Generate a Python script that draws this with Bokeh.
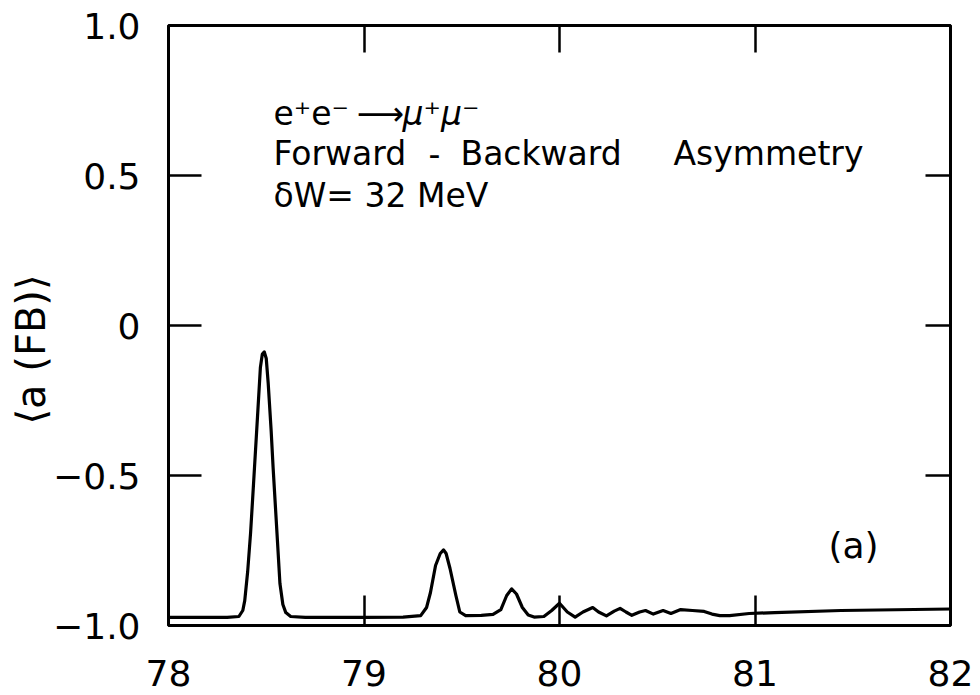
from bokeh.plotting import figure
from bokeh.models import FixedTicker, LinearAxis, Label, Range1d, ColumnDataSource
from bokeh.embed import file_html
from bokeh.resources import INLINE

# ---- data ----
energy = [78.00, 78.30, 78.36, 78.38, 78.39, 78.405, 78.42, 78.435, 78.455, 78.47,
          78.48, 78.49, 78.50, 78.51, 78.525, 78.535, 78.555, 78.57, 78.585, 78.60,
          78.625, 78.70, 79.00, 79.20, 79.29, 79.32, 79.34, 79.366, 79.39, 79.407,
          79.42, 79.44, 79.47, 79.49, 79.52, 79.60, 79.66, 79.70, 79.73, 79.755,
          79.78, 79.81, 79.84, 79.87, 79.92, 79.96, 80.00, 80.04, 80.08, 80.12,
          80.17, 80.20, 80.24, 80.28, 80.31, 80.34, 80.37, 80.41, 80.44, 80.48,
          80.53, 80.57, 80.62, 80.68, 80.74, 80.78, 80.82, 80.87, 80.97, 81.10,
          81.44, 82.00]
asymmetry = [-0.973, -0.973, -0.970, -0.950, -0.917, -0.82, -0.69, -0.527, -0.307, -0.14,
             -0.095, -0.088, -0.11, -0.193, -0.35, -0.473, -0.693, -0.86, -0.93, -0.957,
             -0.970, -0.973, -0.973, -0.972, -0.967, -0.94, -0.89, -0.80, -0.76, -0.748,
             -0.76, -0.81, -0.90, -0.955, -0.967, -0.966, -0.963, -0.947, -0.90, -0.878,
             -0.895, -0.94, -0.965, -0.972, -0.970, -0.950, -0.926, -0.955, -0.972, -0.955,
             -0.940, -0.955, -0.968, -0.952, -0.943, -0.955, -0.966, -0.955, -0.950, -0.962,
             -0.950, -0.960, -0.947, -0.950, -0.953, -0.962, -0.967, -0.967, -0.960, -0.957,
             -0.950, -0.945]

x_ticks = [78, 79, 80, 81, 82]
y_ticks = [-1.0, -0.5, 0.0, 0.5, 1.0]
y_tick_labels = {-1.0: "\u22121.0", -0.5: "\u22120.5", 0.0: "0", 0.5: "0.5", 1.0: "1.0"}
x_tick_labels = {78: "78", 79: "79", 80: "80", 81: "81", 82: "82"}

y_title = "\u27e8a (FB)\u27e9\u2003\u2009"
reaction_lhs = "e\u207ae\u207b"
reaction_arrow = "\u27f6"
reaction_rhs = "\u03bc\u207a\u03bc\u207b"
title_words = ["Forward", "-", "Backward", "Asymmetry"]
resolution = "\u03b4W= 32 MeV"
panel_tag = "(a)"

# ---- layout ----
W, H = 980, 695
L, R, T, B = 168, 30, 25, 70
X0, X1, Y0, Y1 = 78, 82, -1.0, 1.0
FONT = "DejaVu Sans"


def dx(px):
    return X0 + (px - L) * (X1 - X0) / (W - L - R)


def dy(py):
    return Y1 - (py - T) * (Y1 - Y0) / (H - T - B)


p = figure(width=W, height=H, x_range=Range1d(X0, X1), y_range=Range1d(Y0, Y1),
           output_backend="svg", toolbar_location=None,
           min_border_left=L, min_border_right=R, min_border_top=T, min_border_bottom=B,
           x_axis_location=None, y_axis_location=None)
p.grid.visible = False
p.outline_line_color = "black"
p.outline_line_width = 3
p.outline_line_alpha = 1.0
p.background_fill_color = "white"
p.border_fill_color = "white"


def make_axis(ticks, overrides, tick_len, show_labels, standoff):
    ax = LinearAxis(ticker=FixedTicker(ticks=ticks))
    ax.axis_line_color = None
    ax.major_tick_in = tick_len
    ax.major_tick_out = 0
    ax.minor_tick_line_color = None
    ax.major_tick_line_color = "black"
    ax.major_tick_line_width = 2.5
    if show_labels:
        ax.major_label_overrides = overrides
        ax.major_label_text_font = FONT
        ax.major_label_text_font_size = "36px"
        ax.major_label_text_color = "black"
        ax.major_label_standoff = standoff
    else:
        ax.major_label_overrides = {t: "" for t in ticks}
        ax.major_label_standoff = 0
    return ax


p.add_layout(make_axis(x_ticks, x_tick_labels, 30, True, 34), "below")
p.add_layout(make_axis(x_ticks, x_tick_labels, 27, False, 0), "above")
yax = make_axis(y_ticks, y_tick_labels, 33, True, 28)
yax.axis_label = y_title
yax.axis_label_text_font = FONT
yax.axis_label_text_font_size = "40px"
yax.axis_label_text_font_style = "normal"
yax.axis_label_text_color = "black"
yax.axis_label_standoff = -4
p.add_layout(yax, "left")
p.add_layout(make_axis(y_ticks, y_tick_labels, 25, False, 0), "right")

src = ColumnDataSource(data=dict(x=energy, y=asymmetry))
p.line("x", "y", source=src, line_color="black", line_width=3.2,
       line_join="round", line_cap="round")


def add_text(text, px, py, size, align="left", baseline="alphabetic", style="normal"):
    p.add_layout(Label(x=dx(px), y=dy(py), text=text, text_font=FONT,
                       text_font_size=size, text_align=align, text_baseline=baseline,
                       text_color="black", text_font_style=style))


add_text(reaction_lhs, 273, 113, "33px")
add_text(reaction_arrow, 380, 113, "33px", align="center")
add_text(reaction_rhs, 402, 113, "33px", style="italic")
add_text(title_words[0], 273, 153, "33px")
add_text(title_words[1], 434, 153, "33px", align="center")
add_text(title_words[2], 460, 153, "33px")
add_text(title_words[3], 673, 153, "33px")
add_text(resolution, 273, 195, "33px")
add_text(panel_tag, 853, 545, "36px", align="center", baseline="middle")

open("out.html", "w").write(file_html(p, INLINE))
